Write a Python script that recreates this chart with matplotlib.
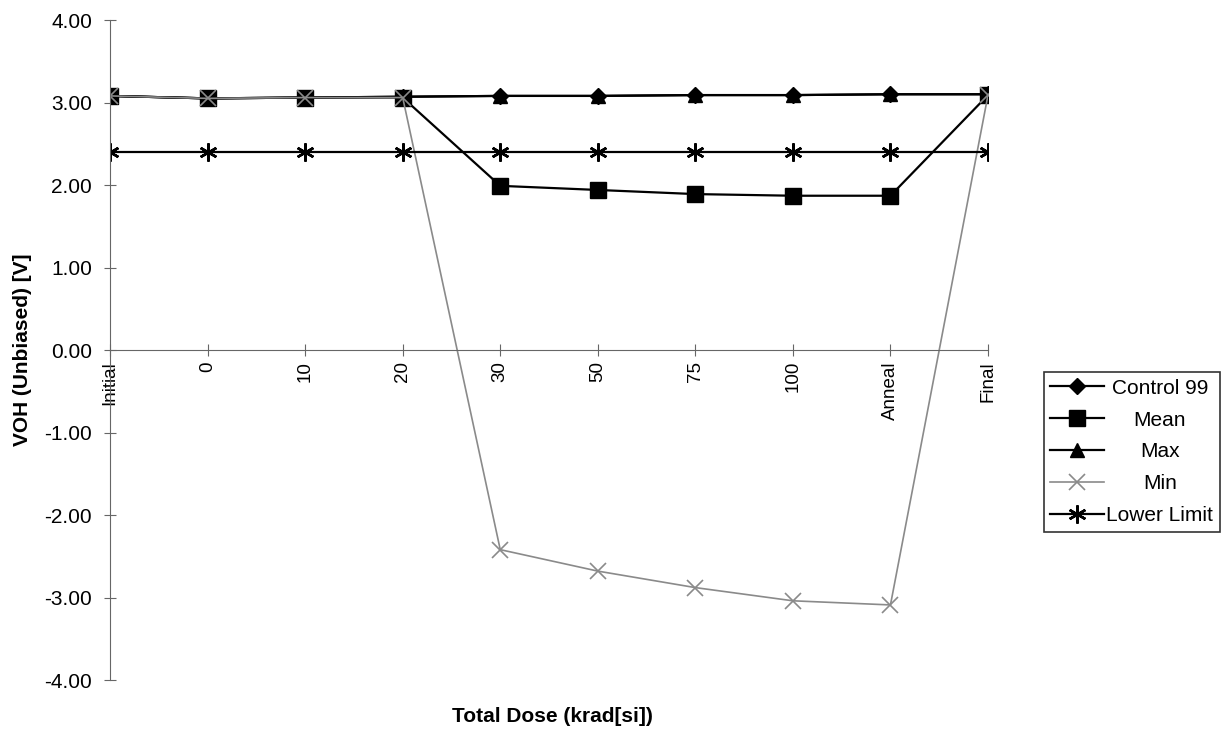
import matplotlib.pyplot as plt
import numpy as np

plt.rcParams['font.family'] = ['Liberation Sans', 'DejaVu Sans']

categories = ['Initial', '0', '10', '20', '30', '50', '75', '100', 'Anneal', 'Final']
control_99 = [3.08, 3.05, 3.06, 3.07, 3.08, 3.08, 3.09, 3.09, 3.10, 3.10]
mean_vals = [3.08, 3.05, 3.06, 3.06, 1.99, 1.94, 1.89, 1.87, 1.87, 3.09]
max_vals = [3.08, 3.05, 3.06, 3.07, 3.08, 3.08, 3.09, 3.09, 3.10, 3.10]
min_vals = [3.08, 3.05, 3.06, 3.06, -2.42, -2.68, -2.88, -3.04, -3.09, 3.09]
lower_limit = [2.40, 2.40, 2.40, 2.40, 2.40, 2.40, 2.40, 2.40, 2.40, 2.40]
y_ticks = [-4, -3, -2, -1, 0, 1, 2, 3, 4]

fig = plt.figure(figsize=(12.31, 7.33), dpi=100)
ax = fig.add_axes([0.0894, 0.0723, 0.7132, 0.9004])
x = np.arange(len(categories))

# x axis sits on the zero line (set before tick styling, it resets ticks)
ax.spines['bottom'].set_position(('data', 0))
ax.spines['top'].set_visible(False)
ax.spines['right'].set_visible(False)
ax.spines['left'].set_color('#666666')
ax.spines['bottom'].set_color('#666666')

ax.plot(x, control_99, color='black', lw=1.6, marker='D', ms=8, label='Control 99')
ax.plot(x, mean_vals, color='black', lw=1.6, marker='s', ms=11, label='Mean')
ax.plot(x, max_vals, color='black', lw=1.6, marker='^', ms=10, label='Max')
ax.plot(x, min_vals, color='#8a8a8a', lw=1.2, marker='x', ms=11, mew=1.2, label='Min')
ax.plot(x, lower_limit, color='black', lw=1.6, marker=(6, 2, 0), ms=13, mew=1.8, label='Lower Limit')

ax.set_xlim(0, 9)
ax.set_ylim(-4, 4)
ax.set_yticks(y_ticks)
ax.set_yticklabels(['%.2f' % v for v in y_ticks], fontsize=15)
ax.set_xticks(x)
ax.set_xticklabels(categories, rotation=90, fontsize=13.5, va='top')
ax.tick_params(axis='both', direction='inout', length=8, color='#666666')
ax.tick_params(axis='y', pad=9)
ax.tick_params(axis='x', pad=4)

ax.set_ylabel('VOH (Unbiased) [V]', fontsize=15, fontweight='bold')
ax.yaxis.set_label_coords(-0.089, 0.5)
fig.text(0.449, 0.022, 'Total Dose (krad[si])', fontsize=15, fontweight='bold',
         ha='center', va='center')

leg = fig.legend(loc='upper left', bbox_to_anchor=(0.848, 0.492), fontsize=15,
                 frameon=True, fancybox=False, edgecolor='black', handlelength=2.6,
                 borderpad=0.3, labelspacing=0.62, handletextpad=0.1, borderaxespad=0)
leg.get_frame().set_linewidth(1.2)

# center the legend labels like the original
fig.canvas.draw()
widths = [t.get_window_extent().width for t in leg.get_texts()]
for t, w in zip(leg.get_texts(), widths):
    t.set_position(((max(widths) - w) / 2, 0))

plt.savefig('out.png', dpi=100)
